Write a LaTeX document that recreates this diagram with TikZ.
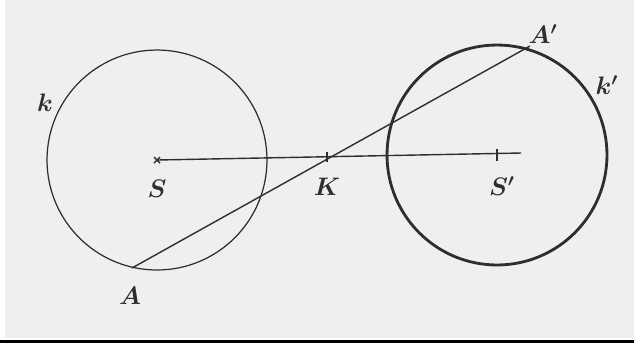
\documentclass[tikz,border=0pt]{standalone}
\definecolor{paper}{HTML}{EFEFEF}
\definecolor{ink}{HTML}{2E2E2E}
\begin{document}
\begin{tikzpicture}[
  x=0.02cm, y=-0.02cm,
  circ/.style={draw=ink, line width=0.7pt},
  boldcirc/.style={draw=ink, line width=1.6pt},
  seg/.style={draw=ink, line width=0.8pt},
  tick/.style={draw=ink, line width=0.8pt},
  lbl/.style={font=\Large\boldmath, text=ink, inner sep=0pt}
]
\useasboundingbox (0,0) rectangle (634,343);
\fill[paper] (5,0) rectangle (634,338);
\fill[black] (0,340) rectangle (634,343);

% centres and points
\coordinate (S) at (157,160);
\coordinate (Sp) at (497,155);
\coordinate (K) at (327,157);
\coordinate (E) at (521,153);
\coordinate (A) at (132,268);
\coordinate (Ap) at (530,46);

\draw[circ] (S) circle[radius=2.2cm];
\draw[boldcirc] (Sp) circle[radius=2.2cm];

\draw[seg] (S) -- (E);
\draw[seg] (A) -- (Ap);

% marks
\draw[tick] (S) +(-3,-3) -- +(3,3) (S) +(-3,3) -- +(3,-3);
\draw[tick] (K) +(0,-5) -- +(0,5);
\draw[tick] (Sp) +(0,-6) -- +(0,6);

\node[lbl] (kl) at (45,103) {$k$};
\node[lbl] (kpl) at (607,85) {$k'$};
\node[lbl] (Sl) at (157,189) {$S$};
\node[lbl] (Kl) at (327,187) {$K$};
\node[lbl] (Spl) at (502,186) {$S'$};
\node[lbl] (Al) at (130,296) {$A$};
\node[lbl] (Apl) at (543,34) {$A'$};
\end{tikzpicture}
\end{document}
